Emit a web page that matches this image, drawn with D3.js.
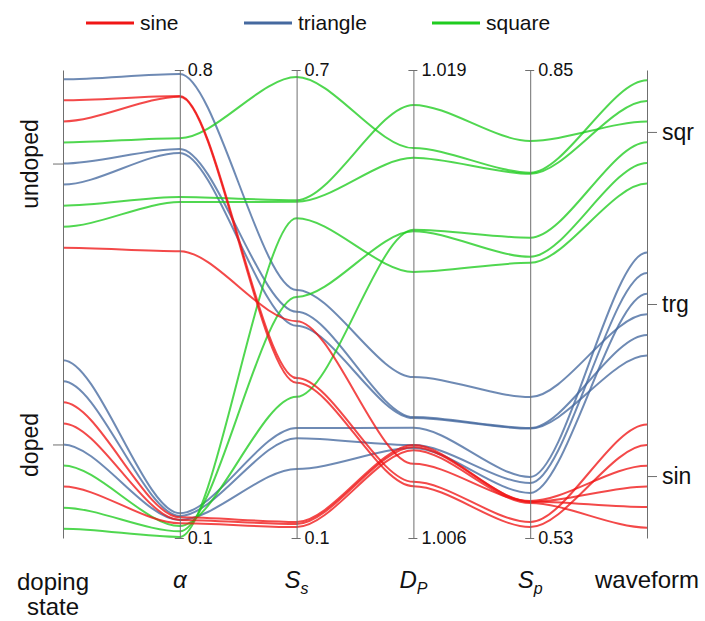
<!DOCTYPE html>
<html>
<head>
<meta charset="utf-8">
<script src="https://cdn.jsdelivr.net/npm/d3@7"></script>
<style>
  body { margin: 0; background: #fff; }
  svg { display: block; }
  text { font-family: "Liberation Sans", Arial, sans-serif; fill: #111; }
</style>
</head>
<body>
<svg id="chart" width="705" height="621"></svg>
<script>
// ---------------- data ----------------
const seriesNames  = ["sine", "triangle", "square"];
const seriesColors = ["#f01616", "#45699f", "#1fcc1f"];

// one entry per polyline
const lineSeries = [
  "sine","sine","sine","sine","sine","sine",
  "triangle","triangle","triangle","triangle","triangle","triangle",
  "square","square","square","square","square","square"
];
// doping state: 0 = doped, 1 = undoped (lines spread around the category)
const dopingValues = [1.225, 1.15, 0.70, 0.15, 0.075, -0.15,
                      1.30, 1.00, 0.925, 0.30, 0.225, 0.00,
                      1.075, 0.85, 0.775, -0.075, -0.225, -0.30];
const alphaValues  = [0.761, 0.760, 0.529, 0.131, 0.127, 0.122,
                      0.794, 0.682, 0.676, 0.137, 0.133, 0.127,
                      0.698, 0.610, 0.6025, 0.118, 0.110, 0.1015];
const ssValues     = [0.305, 0.299, 0.378, 0.1205, 0.118, 0.114,
                      0.418, 0.390, 0.372, 0.241, 0.228, 0.1885,
                      0.691, 0.533, 0.531, 0.281, 0.409, 0.510];
const dpValues     = [1.00756, 1.00744, 1.00806, 1.00858, 1.00853, 1.00844,
                      1.01047, 1.00936, 1.00933, 1.00906, 1.00858, 1.00850,
                      1.01683, 1.01803, 1.01656, 1.01456, 1.01452, 1.01339];
const spValues     = [0.5409, 0.5375, 0.5553, 0.5546, 0.5550, 0.5539,
                      0.6264, 0.6052, 0.6048, 0.5717, 0.5676, 0.5608,
                      0.7798, 0.8015, 0.7790, 0.7353, 0.7223, 0.7182];
// waveform: 0 = sin, 1 = trg, 2 = sqr (lines spread around the category)
const waveValues   = [0.30, 0.18, 0.06, -0.06, -0.18, -0.30,
                      0.94, 0.82, 0.70, 1.30, 1.18, 1.06,
                      2.30, 2.06, 2.18, 1.94, 1.82, 1.70];

const dopingCategories = ["doped", "undoped"];
const waveCategories   = ["sin", "trg", "sqr"];
const alphaTicks = [0.1, 0.8],   alphaTickLabels = ["0.1", "0.8"];
const ssTicks    = [0.1, 0.7],   ssTickLabels    = ["0.1", "0.7"];
const dpTicks    = [1.006, 1.019], dpTickLabels  = ["1.006", "1.019"];
const spTicks    = [0.53, 0.85], spTickLabels    = ["0.53", "0.85"];

// ---------------- layout ----------------
const svg = d3.select("#chart");
const yTop = 70, yBottom = 538;
const dims = ["doping", "alpha", "Ss", "Dp", "Sp", "waveform"];
const x = d3.scalePoint().domain(dims).range([63, 647]);

const y = {
  doping:   d3.scaleLinear().domain([-0.333, 1.333]).range([yBottom, yTop]),
  alpha:    d3.scaleLinear().domain([alphaTicks[0], alphaTicks[1]]).range([yBottom, yTop]),
  Ss:       d3.scaleLinear().domain([ssTicks[0], ssTicks[1]]).range([yBottom, yTop]),
  Dp:       d3.scaleLinear().domain([dpTicks[0], dpTicks[1]]).range([yBottom, yTop]),
  Sp:       d3.scaleLinear().domain([spTicks[0], spTicks[1]]).range([yBottom, yTop]),
  waveform: d3.scaleLinear().domain([-0.36, 2.36]).range([yBottom, yTop])
};

const color = d3.scaleOrdinal().domain(seriesNames).range(seriesColors);

const rows = lineSeries.map((s, i) => ({
  series: s,
  doping: dopingValues[i], alpha: alphaValues[i], Ss: ssValues[i],
  Dp: dpValues[i], Sp: spValues[i], waveform: waveValues[i]
}));

// custom curve: horizontal tangents at every axis
const K = 0.3;
function FlatBezier(context) { this._context = context; }
FlatBezier.prototype = {
  areaStart() {}, areaEnd() {},
  lineStart() { this._p = 0; },
  lineEnd() {},
  point(px, py) {
    px = +px; py = +py;
    if (this._p === 0) { this._p = 1; this._context.moveTo(px, py); }
    else {
      const dx = px - this._x0;
      this._context.bezierCurveTo(this._x0 + K * dx, this._y0, px - K * dx, py, px, py);
    }
    this._x0 = px; this._y0 = py;
  }
};
const curveFlat = ctx => new FlatBezier(ctx);

const line = d3.line()
  .x(d => x(d.key))
  .y(d => y[d.key](d.value))
  .curve(curveFlat);

// ---------------- lines ----------------
const drawOrder = ["triangle", "square", "sine"];
const gLines = svg.append("g").attr("fill", "none");
drawOrder.forEach(s => {
  gLines.selectAll(null)
    .data(rows.filter(r => r.series === s))
    .enter().append("path")
    .attr("d", r => line(dims.map(k => ({ key: k, value: r[k] }))))
    .attr("stroke", r => color(r.series))
    .attr("stroke-width", 2)
    .attr("stroke-opacity", 0.78);
});

// ---------------- axes ----------------
function styleAxis(g) {
  g.selectAll(".domain").attr("stroke", "#6f6f6f").attr("stroke-width", 1);
  g.selectAll(".tick line").attr("stroke", "#6f6f6f");
  g.selectAll("text").attr("fill", "#111").attr("font-family", '"Liberation Sans", Arial, sans-serif');
}

// doping state (categorical, left ticks, rotated labels)
const gDop = svg.append("g").attr("transform", `translate(${x("doping")},0)`)
  .call(d3.axisLeft(y.doping).tickValues([0, 1]).tickFormat(d => dopingCategories[d])
        .tickSize(10).tickSizeOuter(0));
styleAxis(gDop);
gDop.selectAll(".tick text")
  .attr("font-size", 23)
  .attr("text-anchor", "middle")
  .attr("x", null).attr("dy", null)
  .attr("transform", "translate(-25,0) rotate(-90)");

// numeric axes: ticks at both ends, labels right
[["alpha", alphaTicks, alphaTickLabels], ["Ss", ssTicks, ssTickLabels],
 ["Dp", dpTicks, dpTickLabels], ["Sp", spTicks, spTickLabels]].forEach(([k, tv, tl]) => {
  const g = svg.append("g").attr("transform", `translate(${x(k)},0)`)
    .call(d3.axisRight(y[k]).tickValues(tv).tickFormat((d, i) => tl[i])
          .tickSize(4).tickSizeOuter(0).tickPadding(4));
  styleAxis(g);
  g.selectAll(".tick line").attr("x1", -5);
  g.selectAll(".tick text").attr("font-size", 18);
});

// waveform axis (categorical, right ticks)
const gWave = svg.append("g").attr("transform", `translate(${x("waveform")},0)`)
  .call(d3.axisRight(y.waveform).tickValues([0, 1, 2]).tickFormat(d => waveCategories[d])
        .tickSize(10).tickSizeOuter(0).tickPadding(5));
styleAxis(gWave);
gWave.selectAll(".tick text").attr("font-size", 23);

// ---------------- bottom labels ----------------
const gLab = svg.append("g").attr("font-size", 24).attr("text-anchor", "middle");
gLab.append("text").attr("x", x("doping") - 10).attr("y", 590).text("doping");
gLab.append("text").attr("x", x("doping") - 10).attr("y", 615).text("state");
gLab.append("text").attr("x", x("alpha")).attr("y", 588)
  .attr("font-family", '"Liberation Serif", "DejaVu Serif", serif')
  .attr("font-style", "italic").text("α");
function subLabel(key, main, sub) {
  const t = gLab.append("text").attr("x", x(key)).attr("y", 588).attr("font-style", "italic");
  t.append("tspan").text(main);
  t.append("tspan").attr("font-size", 16).attr("dy", 6).text(sub);
}
subLabel("Ss", "S", "s");
subLabel("Dp", "D", "P");
subLabel("Sp", "S", "p");
gLab.append("text").attr("x", x("waveform")).attr("y", 588).text("waveform");

// ---------------- legend ----------------
const legendX = [86, 244, 432];
const gLeg = svg.append("g");
seriesNames.forEach((s, i) => {
  gLeg.append("line")
    .attr("x1", legendX[i]).attr("x2", legendX[i] + 48)
    .attr("y1", 23).attr("y2", 23)
    .attr("stroke", color(s)).attr("stroke-width", 3);
  gLeg.append("text")
    .attr("x", legendX[i] + 54).attr("y", 30)
    .attr("font-size", 21).text(s);
});
</script>
</body>
</html>
